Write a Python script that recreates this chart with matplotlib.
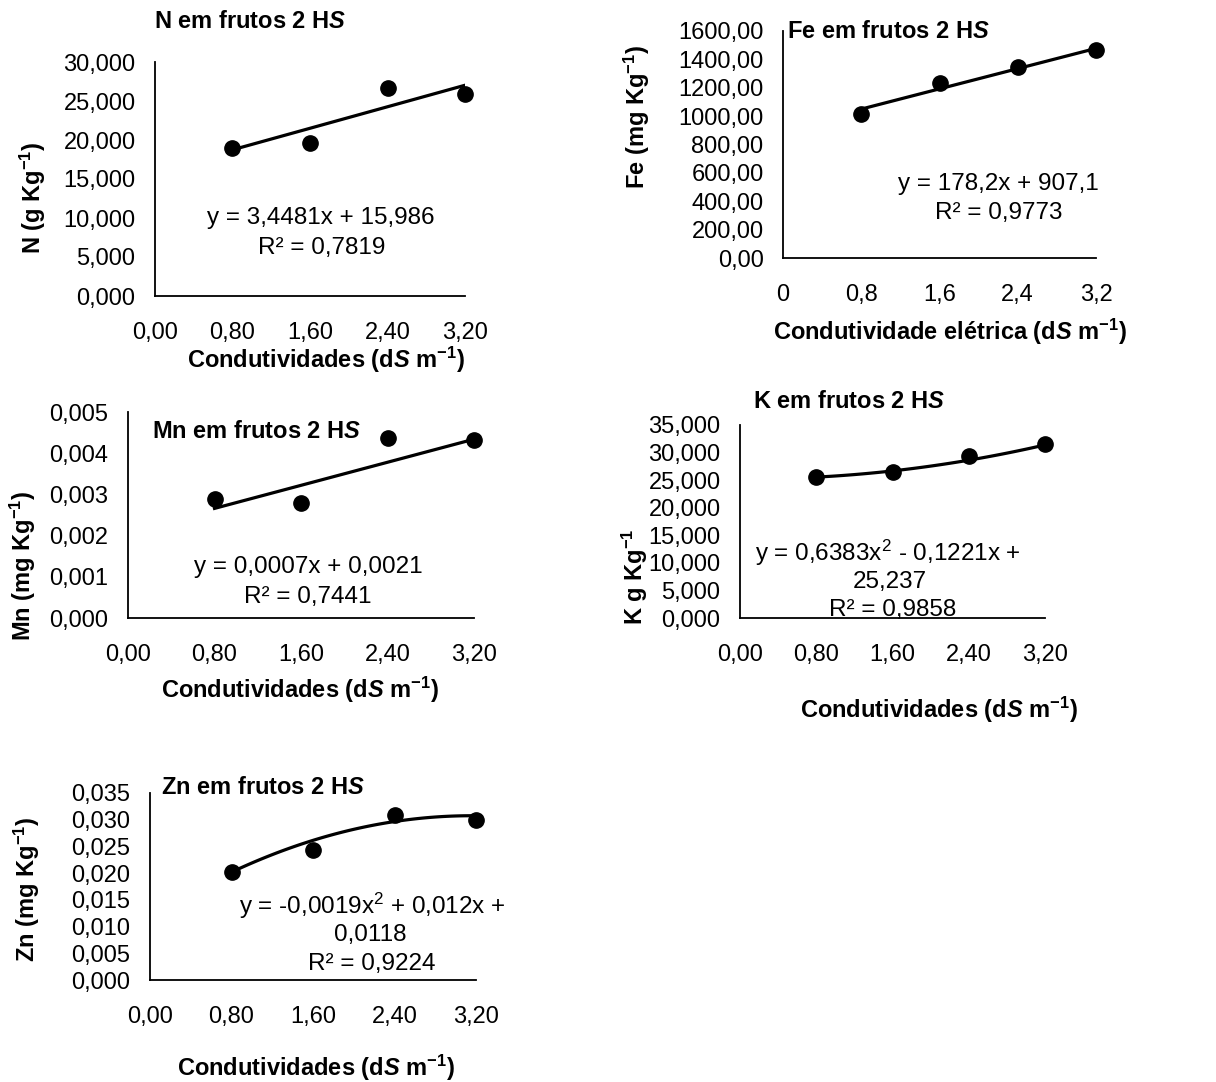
import numpy as np
import matplotlib
matplotlib.use('Agg')
import matplotlib.pyplot as plt

plt.rcParams['font.family'] = ['Liberation Sans', 'DejaVu Sans']
plt.rcParams['mathtext.fontset'] = 'custom'
plt.rcParams['mathtext.rm'] = 'Liberation Sans'
plt.rcParams['mathtext.it'] = 'Liberation Sans:italic:bold'
plt.rcParams['mathtext.bf'] = 'Liberation Sans:bold'
plt.rcParams['mathtext.default'] = 'regular'

W, H = 1216, 1082

# condutividades (dS m-1)
cond = [0.8, 1.6, 2.4, 3.2]

n_val = [19.0, 19.6, 26.7, 25.9]
fe_val = [1018, 1236, 1346, 1464]
mn_val = [0.0029, 0.00278, 0.00437, 0.00433]
k_val = [25.6, 26.5, 29.3, 31.5]
zn_val = [0.0203, 0.0243, 0.0308, 0.0299]

# coeficientes das linhas de tendência (maior grau primeiro)
n_fit = [3.4481, 15.986]
fe_fit = [178.2, 907.1]
mn_fit = [0.0007, 0.0021]
k_fit = [0.6383, -0.1221, 25.237]
zn_fit = [-0.0019, 0.012, 0.0118]

x_ticks = [0, 0.8, 1.6, 2.4, 3.2]
x_lab2 = ['0,00', '0,80', '1,60', '2,40', '3,20']
x_lab1 = ['0', '0,8', '1,6', '2,4', '3,2']

n_ticks = [0, 5, 10, 15, 20, 25, 30]
n_lab = ['0,000', '5,000', '10,000', '15,000', '20,000', '25,000', '30,000']
fe_ticks = [0, 200, 400, 600, 800, 1000, 1200, 1400, 1600]
fe_lab = ['0,00', '200,00', '400,00', '600,00', '800,00', '1000,00',
          '1200,00', '1400,00', '1600,00']
mn_ticks = [0, 0.001, 0.002, 0.003, 0.004, 0.005]
mn_lab = ['0,000', '0,001', '0,002', '0,003', '0,004', '0,005']
k_ticks = [0, 5, 10, 15, 20, 25, 30, 35]
k_lab = ['0,000', '5,000', '10,000', '15,000', '20,000', '25,000',
         '30,000', '35,000']
zn_ticks = [0, 0.005, 0.01, 0.015, 0.02, 0.025, 0.03, 0.035]
zn_lab = ['0,000', '0,005', '0,010', '0,015', '0,020', '0,025',
          '0,030', '0,035']

XLAB = r'Condutividades (d$\mathit{S}$ m$^{\mathbf{-1}}$)'
HS = r'em frutos 2 H$\mathit{S}$'
FS = 17.5     # equações
FSB = 17      # títulos e rótulos dos eixos
FST = 17      # rótulos das marcas

fig = plt.figure(figsize=(W / 100, H / 100), dpi=100)


def txt(x, y, s, **kw):
    kw.setdefault('ha', 'center')
    kw.setdefault('va', 'center')
    if kw.get('weight') == 'bold':
        kw.setdefault('fontsize', FSB)
    kw.setdefault('fontsize', FS)
    fig.text(x / W, 1 - y / H, s, **kw)


def painel(caixa, yv, fit, yticks, ylab, xlab):
    l, t, r, b = caixa
    ax = fig.add_axes([l / W, 1 - b / H, (r - l) / W, (b - t) / H])
    ax.set_xlim(0, 3.2)
    ax.set_ylim(0, yticks[-1])
    ax.set_xticks(x_ticks, xlab)
    ax.set_yticks(yticks, ylab)
    ax.tick_params(length=0, labelsize=FST)
    ax.tick_params(axis='x', pad=19)
    ax.tick_params(axis='y', pad=14)
    for s in ['top', 'right']:
        ax.spines[s].set_visible(False)
    for s in ['left', 'bottom']:
        ax.spines[s].set_linewidth(1.3)
    ax.patch.set_alpha(0)
    xx = np.linspace(cond[0], cond[-1], 60)
    ax.plot(xx, np.polyval(fit, xx), color='black', lw=2.3, zorder=2)
    ax.plot(cond, yv, 'o', color='black', ms=11, zorder=3, clip_on=False)
    return ax


# N
painel((155, 62, 465, 296), n_val, n_fit, n_ticks, n_lab, x_lab2)
txt(250, 22, 'N ' + HS, weight='bold')
txt(321, 218, 'y = 3,4481x + 15,986')
txt(322, 248, 'R² = 0,7819')
txt(326, 360, XLAB, weight='bold')
txt(33, 198, r'N (g Kg$^{\mathbf{-1}}$)', weight='bold', rotation=90)

# Fe
painel((783, 31, 1096, 258), fe_val, fe_fit, fe_ticks, fe_lab, x_lab1)
txt(888, 31, 'Fe ' + HS, weight='bold')
txt(998, 184, 'y = 178,2x + 907,1')
txt(999, 213, 'R² = 0,9773')
txt(950, 332, r'Condutividade elétrica (d$\mathit{S}$ m$^{\mathbf{-1}}$)',
    weight='bold')
txt(637, 117, r'Fe (mg Kg$^{\mathbf{-1}}$)', weight='bold', rotation=90)

# Mn
painel((128, 412, 474, 618), mn_val, mn_fit, mn_ticks, mn_lab, x_lab2)
txt(257, 432, 'Mn ' + HS, weight='bold')
txt(308, 567, 'y = 0,0007x + 0,0021')
txt(308, 597, 'R² = 0,7441')
txt(300, 690, XLAB, weight='bold')
txt(23, 566, r'Mn (mg Kg$^{\mathbf{-1}}$)', weight='bold', rotation=90)

# K
painel((740, 425, 1045, 618), k_val, k_fit, k_ticks, k_lab, x_lab2)
txt(849, 402, 'K ' + HS, weight='bold')
txt(888, 553, 'y = 0,6383x$^2$ - 0,1221x +')
txt(890, 582, '25,237')
txt(893, 610, 'R² = 0,9858')
txt(939, 710, XLAB, weight='bold')
txt(635, 577, r'K g Kg$^{\mathbf{-1}}$', weight='bold', rotation=90)

# Zn
painel((150, 793, 476, 980), zn_val, zn_fit, zn_ticks, zn_lab, x_lab2)
txt(263, 787, 'Zn ' + HS, weight='bold')
txt(372, 906, 'y = -0,0019x$^2$ + 0,012x +')
txt(370, 935, '0,0118')
txt(372, 964, 'R² = 0,9224')
txt(316, 1068, XLAB, weight='bold')
txt(27, 889, r'Zn (mg Kg$^{\mathbf{-1}}$)', weight='bold', rotation=90)

fig.savefig('out.png', dpi=100)
